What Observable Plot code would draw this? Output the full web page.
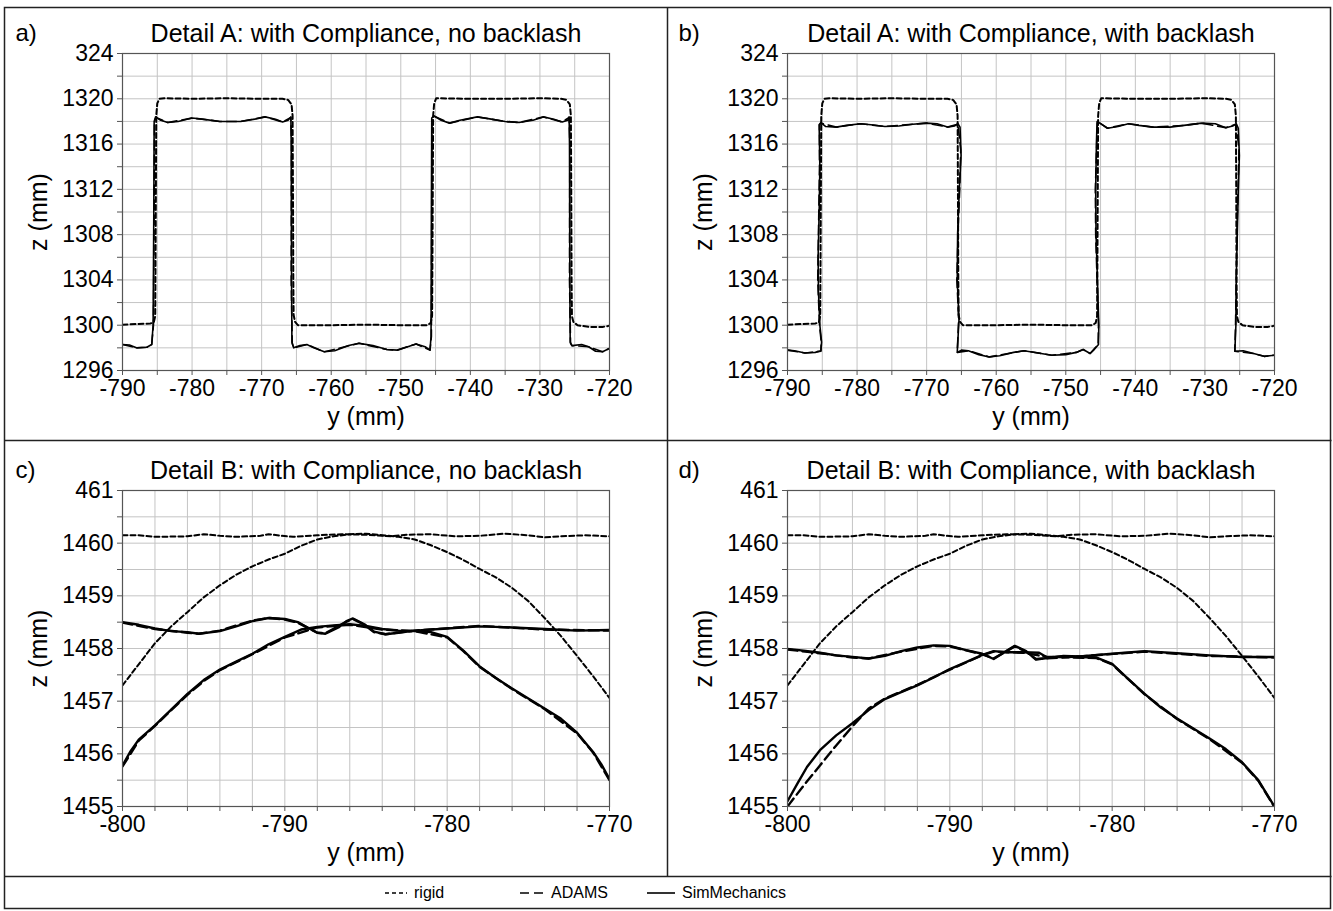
<!DOCTYPE html>
<html><head><meta charset="utf-8">
<script src="https://cdn.jsdelivr.net/npm/d3@7"></script>
<script src="https://cdn.jsdelivr.net/npm/@observablehq/plot@0.6"></script>
<style>
html,body{margin:0;padding:0;background:#fff;width:1333px;height:911px;overflow:hidden;font-family:"Liberation Sans",Arial,sans-serif;}
.cell{position:absolute;}
#legend{position:absolute;left:0;top:876px;width:1333px;height:33px;}
.li{position:absolute;top:0;height:33px;display:flex;align-items:center;font-size:16px;color:#000;}
.li svg{margin-right:7px;}
</style></head>
<body>
<svg id="borders" width="1333" height="911" style="position:absolute;left:0;top:0"></svg>
<div id="pa" class="cell" style="left:4px;top:7px"></div>
<div id="pb" class="cell" style="left:667px;top:7px"></div>
<div id="pc" class="cell" style="left:4px;top:440px"></div>
<div id="pd" class="cell" style="left:667px;top:440px"></div>
<div id="legend"></div>
<script>
// ---------- tick values & labels ----------
const xTicksA = [-790, -780, -770, -760, -750, -740, -730, -720];
const xLabelsA = ["-790", "-780", "-770", "-760", "-750", "-740", "-730", "-720"];
const xGridA = [-790,-785,-780,-775,-770,-765,-760,-755,-750,-745,-740,-735,-730,-725,-720];
const yTicksA = [1296, 1300, 1304, 1308, 1312, 1316, 1320, 1324];
const yLabelsA = ["1296", "1300", "1304", "1308", "1312", "1316", "1320", "324"];
const yGridA = [1296,1298,1300,1302,1304,1306,1308,1310,1312,1314,1316,1318,1320,1322,1324];

const xTicksB = [-800, -790, -780, -770];
const xLabelsB = ["-800", "-790", "-780", "-770"];
const xGridB = [-800,-798,-796,-794,-792,-790,-788,-786,-784,-782,-780,-778,-776,-774,-772,-770];
const yTicksB = [1455, 1456, 1457, 1458, 1459, 1460, 1461];
const yLabelsB = ["1455", "1456", "1457", "1458", "1459", "1460", "461"];
const yGridB = [1455,1455.5,1456,1456.5,1457,1457.5,1458,1458.5,1459,1459.5,1460,1460.5,1461];

const titles = ["Detail A: with Compliance, no backlash", "Detail A: with Compliance, with backlash",
                "Detail B: with Compliance, no backlash", "Detail B: with Compliance, with backlash"];
const letters = ["a)", "b)", "c)", "d)"];
const legendNames = ["rigid", "ADAMS", "SimMechanics"];

// ---------- Detail A series: [y, z] ----------
const rigidA = [[-790,1300.05],[-788,1300.1],[-786,1300.15],[-785.5,1300.25],[-785.3,1300.8],[-785.25,1306],[-785.2,1312],[-785.15,1318.5],[-785.0,1319.6],[-784.7,1320.0],[-784,1320.05],[-780,1320.0],[-775,1320.05],[-770,1320.0],[-767,1320.0],[-766.2,1319.9],[-765.7,1319.5],[-765.55,1318.5],[-765.5,1312],[-765.45,1304],[-765.4,1300.9],[-765.2,1300.3],[-764.8,1300.0],[-760,1300.0],[-755,1300.05],[-750,1300.0],[-746.2,1300.0],[-745.7,1300.2],[-745.5,1300.8],[-745.45,1306],[-745.4,1312],[-745.35,1318.5],[-745.2,1319.6],[-744.9,1320.05],[-740,1320.0],[-735,1320.0],[-730,1320.05],[-727,1320.0],[-726.2,1319.9],[-725.7,1319.5],[-725.55,1318.5],[-725.5,1312],[-725.45,1304],[-725.4,1300.8],[-725.2,1300.3],[-724.6,1300.0],[-723,1299.85],[-721,1299.85],[-720,1299.95]];

const simA1 = [[-790,1298.3],[-789,1298.25],[-788,1298.0],[-786.5,1298.05],[-785.8,1298.3],[-785.6,1300],[-785.5,1310],[-785.45,1318.0],[-785.25,1318.4],[-784.5,1318.1],[-783.5,1317.9],[-782,1318.0],[-780,1318.3],[-778.5,1318.2],[-776,1318.0],[-773,1318.0],[-771,1318.2],[-769.5,1318.4],[-768,1318.2],[-767,1317.95],[-766.2,1318.1],[-765.8,1318.4],[-765.75,1316],[-765.7,1304],[-765.65,1298.5],[-765.4,1298.0],[-764.5,1298.2],[-763.5,1298.3],[-762.5,1298.0],[-761,1297.65],[-759.5,1297.75],[-757.5,1298.2],[-756,1298.4],[-754,1298.2],[-752,1297.85],[-750.5,1297.8],[-749,1298.1],[-747.8,1298.35],[-746.5,1298.1],[-745.8,1297.8],[-745.65,1299],[-745.6,1310],[-745.55,1318.3],[-745.25,1318.5],[-744.2,1318.1],[-743,1317.85],[-741.5,1318.1],[-739,1318.4],[-737,1318.2],[-735,1318.0],[-733,1317.9],[-731,1318.1],[-729.5,1318.4],[-728,1318.2],[-726.8,1317.95],[-726,1318.1],[-725.8,1318.4],[-725.75,1316],[-725.7,1304],[-725.65,1298.5],[-725.4,1298.2],[-724,1298.3],[-723,1298.1],[-722,1297.7],[-721,1297.65],[-720,1297.95]];
const adamsA1 = [[-790,1298.3],[-788,1298.0],[-786.5,1298.05],[-785.8,1298.3],[-785.55,1300],[-785.45,1310],[-785.4,1318.0],[-785.2,1318.35],[-783.5,1317.9],[-780,1318.3],[-776,1318.0],[-773,1318.0],[-769.5,1318.4],[-767,1317.95],[-765.8,1318.35],[-765.7,1316],[-765.75,1304],[-765.6,1298.4],[-765.4,1298.0],[-763.5,1298.3],[-761,1297.65],[-756,1298.4],[-752,1297.85],[-750.5,1297.8],[-747.8,1298.35],[-745.8,1297.8],[-745.6,1299],[-745.55,1310],[-745.5,1318.3],[-745.2,1318.45],[-743,1317.85],[-739,1318.4],[-735,1318.0],[-733,1317.9],[-729.5,1318.4],[-726.8,1317.95],[-725.8,1318.35],[-725.7,1316],[-725.75,1304],[-725.6,1298.4],[-725.4,1298.2],[-723,1298.1],[-721,1297.65],[-720,1297.95]];

const simA2 = [[-790,1297.8],[-789,1297.75],[-787.5,1297.55],[-786,1297.6],[-785.2,1297.75],[-785.1,1298.5],[-785.35,1300],[-785.55,1303],[-785.6,1306],[-785.45,1310],[-785.35,1314],[-785.45,1317.7],[-785.2,1317.9],[-784.5,1317.55],[-783,1317.5],[-781.5,1317.65],[-779.5,1317.8],[-778,1317.7],[-776,1317.55],[-774,1317.6],[-772,1317.75],[-770,1317.85],[-768.5,1317.8],[-767,1317.5],[-766,1317.6],[-765.5,1317.8],[-765.2,1317.5],[-765.05,1315],[-765.3,1312],[-765.55,1308],[-765.6,1304],[-765.35,1300.5],[-765.6,1297.6],[-765,1297.8],[-764,1297.75],[-762.5,1297.4],[-761,1297.2],[-759.5,1297.3],[-757.5,1297.6],[-756,1297.75],[-754,1297.55],[-752,1297.35],[-750,1297.4],[-748.5,1297.6],[-747.5,1297.85],[-746.5,1297.5],[-746,1297.8],[-745.3,1298.3],[-745.25,1300],[-745.45,1304],[-745.65,1308],[-745.7,1312],[-745.6,1316],[-745.5,1318],[-745,1317.8],[-744,1317.4],[-742.5,1317.55],[-741,1317.8],[-739.5,1317.65],[-737.5,1317.5],[-735,1317.5],[-733,1317.65],[-730.5,1317.85],[-728.5,1317.8],[-727,1317.45],[-726,1317.6],[-725.5,1317.8],[-725.2,1317.4],[-725.05,1315],[-725.2,1312],[-725.35,1308],[-725.5,1304],[-725.55,1300],[-725.7,1297.7],[-724.5,1297.75],[-723,1297.5],[-721.5,1297.25],[-720,1297.35]];
const adamsA2 = [[-790,1297.8],[-787.5,1297.55],[-785.2,1297.7],[-785.15,1298.5],[-785.4,1300],[-785.65,1304],[-785.5,1310],[-785.4,1314],[-785.4,1317.7],[-785.2,1317.85],[-783,1317.5],[-779.5,1317.8],[-776,1317.55],[-772,1317.75],[-770,1317.85],[-767,1317.5],[-765.5,1317.75],[-765.1,1315.5],[-765.25,1312],[-765.5,1308],[-765.65,1304],[-765.4,1300.5],[-765.6,1297.6],[-764,1297.75],[-761,1297.2],[-756,1297.75],[-752,1297.35],[-748.5,1297.6],[-747.5,1297.85],[-746.5,1297.5],[-745.35,1298.3],[-745.3,1300],[-745.5,1304],[-745.7,1308],[-745.75,1312],[-745.55,1316],[-745.45,1318],[-744,1317.4],[-741,1317.8],[-737.5,1317.5],[-733,1317.65],[-730.5,1317.85],[-727,1317.45],[-725.5,1317.75],[-725.1,1315.5],[-725.25,1312],[-725.4,1308],[-725.5,1304],[-725.6,1300],[-725.7,1297.7],[-723,1297.5],[-721.5,1297.25],[-720,1297.35]];

// ---------- Detail B series: [y, z] ----------
const rigidFlatB = [[-800,1460.15],[-799,1460.15],[-798,1460.12],[-796,1460.13],[-795,1460.17],[-794,1460.14],[-793,1460.12],[-791.5,1460.14],[-791,1460.17],[-790.2,1460.14],[-789.5,1460.12],[-788,1460.15],[-786.5,1460.17],[-785,1460.16],[-783.5,1460.13],[-782.5,1460.16],[-781,1460.17],[-779.5,1460.13],[-778,1460.14],[-776.5,1460.18],[-775,1460.15],[-774,1460.11],[-773,1460.13],[-771.5,1460.15],[-770,1460.13]];
const rigidArcB = [[-800,1457.3],[-799,1457.7],[-798,1458.1],[-797,1458.42],[-796,1458.69],[-795,1458.97],[-794,1459.2],[-793,1459.4],[-792,1459.56],[-791,1459.69],[-790,1459.8],[-789,1459.95],[-788,1460.07],[-787,1460.13],[-786,1460.17],[-785,1460.18],[-784,1460.15],[-783,1460.12],[-782,1460.07],[-781,1459.96],[-780,1459.83],[-779,1459.68],[-778,1459.51],[-777,1459.35],[-776,1459.15],[-775,1458.9],[-774,1458.58],[-773,1458.24],[-772,1457.86],[-771,1457.47],[-770,1457.06]];

const simFlatC = [[-800,1458.5],[-799,1458.45],[-798,1458.38],[-797,1458.33],[-796,1458.31],[-795.3,1458.28],[-794,1458.33],[-793,1458.42],[-792,1458.52],[-791,1458.58],[-790,1458.56],[-789.2,1458.5],[-788.5,1458.38],[-788,1458.3],[-787.5,1458.28],[-786.7,1458.4],[-786.2,1458.52],[-785.8,1458.57],[-785.1,1458.46],[-784.5,1458.32],[-783.8,1458.27],[-783,1458.3],[-782,1458.34],[-780,1458.38],[-778,1458.42],[-776,1458.4],[-774,1458.37],[-772,1458.34],[-770,1458.35]];
const simArcC = [[-800,1455.78],[-799.5,1456.05],[-799,1456.27],[-798,1456.54],[-797,1456.84],[-796,1457.14],[-795,1457.4],[-794,1457.6],[-793,1457.75],[-792,1457.9],[-791,1458.08],[-790,1458.22],[-789,1458.36],[-788,1458.41],[-787,1458.44],[-786,1458.46],[-785,1458.43],[-784,1458.37],[-783,1458.34],[-782,1458.33],[-781,1458.31],[-780,1458.22],[-779,1457.96],[-778,1457.66],[-777,1457.44],[-776,1457.24],[-775,1457.05],[-774,1456.86],[-773,1456.67],[-772,1456.4],[-771,1456.03],[-770.5,1455.8],[-770,1455.52]];
const adamsFlatC = [[-800,1458.49],[-798,1458.37],[-796,1458.3],[-795.3,1458.28],[-794,1458.34],[-792,1458.53],[-791,1458.58],[-790,1458.55],[-789.2,1458.49],[-788,1458.3],[-787.5,1458.29],[-786.2,1458.51],[-785.8,1458.56],[-785.1,1458.45],[-784.5,1458.31],[-783.8,1458.27],[-782,1458.34],[-778,1458.43],[-774,1458.36],[-770,1458.34]];
const adamsArcC = [[-800,1455.76],[-799,1456.25],[-798,1456.53],[-797,1456.83],[-796,1457.12],[-795,1457.38],[-794,1457.59],[-792,1457.89],[-790,1458.21],[-788,1458.4],[-786,1458.45],[-784,1458.36],[-782,1458.33],[-780,1458.21],[-779,1457.95],[-778,1457.65],[-776,1457.23],[-774,1456.85],[-772,1456.39],[-771,1456.02],[-770,1455.5]];

const simFlatD = [[-800,1457.99],[-799,1457.96],[-798,1457.92],[-797,1457.87],[-796,1457.84],[-795,1457.81],[-794,1457.86],[-793,1457.95],[-792,1458.02],[-791,1458.06],[-790,1458.05],[-789,1457.97],[-788,1457.9],[-787.3,1457.8],[-786.6,1457.94],[-786,1458.05],[-785.3,1457.95],[-784.7,1457.79],[-784,1457.82],[-783,1457.86],[-782,1457.85],[-780,1457.9],[-778,1457.95],[-776,1457.91],[-774,1457.87],[-772,1457.84],[-770,1457.84]];
const simArcD = [[-800,1455.1],[-799.4,1455.43],[-798.8,1455.75],[-798,1456.07],[-797,1456.35],[-796,1456.58],[-795,1456.83],[-794,1457.04],[-793,1457.17],[-792,1457.3],[-791,1457.45],[-790,1457.61],[-789,1457.74],[-788,1457.88],[-787.3,1457.95],[-786.5,1457.93],[-785.5,1457.93],[-784.5,1457.92],[-784,1457.83],[-783,1457.85],[-782,1457.84],[-781,1457.83],[-780,1457.71],[-779,1457.42],[-778,1457.14],[-777,1456.88],[-776,1456.67],[-775,1456.48],[-774,1456.29],[-773,1456.09],[-772,1455.84],[-771,1455.5],[-770,1455.0]];
const adamsFlatD = [[-800,1457.98],[-798,1457.91],[-796,1457.83],[-795,1457.81],[-793,1457.94],[-791,1458.05],[-790,1458.04],[-788,1457.89],[-787.3,1457.81],[-786,1458.04],[-785.3,1457.94],[-784.7,1457.8],[-782,1457.85],[-778,1457.94],[-774,1457.86],[-770,1457.83]];
const adamsArcD = [[-800,1455.0],[-799,1455.4],[-798,1455.78],[-797,1456.16],[-796,1456.52],[-795,1456.86],[-794,1457.05],[-792,1457.31],[-790,1457.6],[-788,1457.87],[-787.3,1457.94],[-785.5,1457.92],[-784,1457.84],[-781,1457.82],[-780,1457.7],[-778,1457.13],[-776,1456.66],[-774,1456.28],[-772,1455.83],[-771,1455.49],[-770,1454.99]];

// ---------- styles ----------
const FONT = "'Liberation Sans', Arial, Helvetica, sans-serif";
const GRID = "#c4c4c4", AXIS = "#555";
const rigidStyle = {stroke: "#000", strokeWidth: 2, strokeDasharray: "5,3"};
const adamsStyle = {stroke: "#000", strokeDasharray: "10,5"};

function fmt(ticks, labels) {
  return v => { const i = ticks.indexOf(v); return i >= 0 ? labels[i] : ""; };
}

function panel(o) {
  const P = (d, s) => Plot.line(d, {x: d => d[0], y: d => d[1], clip: true, ...s});
  const lines = [];
  o.rigid.forEach(d => lines.push(P(d, rigidStyle)));
  o.adams.forEach(d => lines.push(P(d, {...adamsStyle, strokeWidth: o.simW})));
  o.sim.forEach(d => lines.push(P(d, {stroke: "#000", strokeWidth: o.simW})));
  return Plot.plot({
    width: o.w, height: o.h,
    marginLeft: o.ml, marginRight: o.mr, marginTop: o.mt, marginBottom: o.mb,
    style: {fontFamily: FONT, fontSize: "23px", color: "#000", background: "transparent", overflow: "visible"},
    x: {domain: o.xDomain},
    y: {domain: o.yDomain},
    marks: [
      Plot.gridX({ticks: o.xGrid, stroke: GRID, strokeOpacity: 1, strokeWidth: 1}),
      Plot.gridY({ticks: o.yGrid, stroke: GRID, strokeOpacity: 1, strokeWidth: 1}),
      Plot.axisX({ticks: o.xGrid, tickSize: 5, tickPadding: 4, stroke: AXIS, tickFormat: fmt(o.xTicks, o.xLabels), label: null, fontSize: 23}),
      Plot.axisY({ticks: o.yGrid, tickSize: 5, tickPadding: 4, stroke: AXIS, tickFormat: fmt(o.yTicks, o.yLabels), label: null, fontSize: 23}),
      ...lines,
      Plot.frame({stroke: AXIS, strokeWidth: 1.2}),
      Plot.text([o.title], {frameAnchor: "top", dy: -20, lineAnchor: "middle", fontSize: 25, fill: "#000"}),
      Plot.text([o.letter], {frameAnchor: "top-left", dx: -(o.ml - 11), dy: -20, textAnchor: "start", lineAnchor: "middle", fontSize: 24, fill: "#000"}),
      Plot.text(["z (mm)"], {frameAnchor: "left", dx: -84, rotate: -90, lineAnchor: "middle", textAnchor: "middle", fontSize: 25, fill: "#000"}),
      Plot.text(["y (mm)"], {frameAnchor: "bottom", dy: 46, lineAnchor: "middle", textAnchor: "middle", fontSize: 25, fill: "#000"})
    ]
  });
}

const A = {xDomain: [-790, -720], yDomain: [1296, 1324], xGrid: xGridA, yGrid: yGridA, xTicks: xTicksA, xLabels: xLabelsA, yTicks: yTicksA, yLabels: yLabelsA, w: 663, h: 433, mt: 46, mb: 70, rigid: [rigidA], simW: 1.6};
const B = {xDomain: [-800, -770], yDomain: [1455, 1461], xGrid: xGridB, yGrid: yGridB, xTicks: xTicksB, xLabels: xLabelsB, yTicks: yTicksB, yLabels: yLabelsB, w: 663, h: 436, mt: 50, mb: 70, rigid: [rigidFlatB, rigidArcB], simW: 2.4};
const L = {ml: 118, mr: 58}, R = {ml: 120, mr: 56};

document.getElementById("pa").append(panel({...A, ...L, title: titles[0], letter: letters[0], adams: [adamsA1], sim: [simA1]}));
document.getElementById("pb").append(panel({...A, ...R, title: titles[1], letter: letters[1], adams: [adamsA2], sim: [simA2]}));
document.getElementById("pc").append(panel({...B, ...L, title: titles[2], letter: letters[2], adams: [adamsFlatC, adamsArcC], sim: [simFlatC, simArcC]}));
document.getElementById("pd").append(panel({...B, ...R, title: titles[3], letter: letters[3], adams: [adamsFlatD, adamsArcD], sim: [simFlatD, simArcD]}));

// ---------- borders ----------
const b = d3.select("#borders");
const bs = {stroke: "#222", "stroke-width": 1.5, fill: "none"};
const rect = b.append("rect").attr("x", 4.5).attr("y", 7.5).attr("width", 1326).attr("height", 901);
Object.entries(bs).forEach(([k, v]) => rect.attr(k, v));
[[667, 7, 667, 876], [4, 440, 1331, 440], [4, 876, 1331, 876]].forEach(([x1, y1, x2, y2]) => {
  const l = b.append("line").attr("x1", x1 + 0.5).attr("y1", y1 + 0.5).attr("x2", x2 + 0.5).attr("y2", y2 + 0.5);
  Object.entries(bs).forEach(([k, v]) => l.attr(k, v));
});

// ---------- legend ----------
const legendItems = [
  {name: legendNames[0], left: 385, dash: "4,3", w: 22},
  {name: legendNames[1], left: 520, dash: "9,5", w: 24},
  {name: legendNames[2], left: 647, dash: null, w: 28}
];
const lg = document.getElementById("legend");
legendItems.forEach(it => {
  const div = document.createElement("div");
  div.className = "li";
  div.style.left = it.left + "px";
  div.innerHTML = `<svg width="${it.w}" height="10"><line x1="0" y1="5" x2="${it.w}" y2="5" stroke="#000" stroke-width="1.6" ${it.dash ? `stroke-dasharray="${it.dash}"` : ""}/></svg><span>${it.name}</span>`;
  lg.append(div);
});
</script>
</body></html>
